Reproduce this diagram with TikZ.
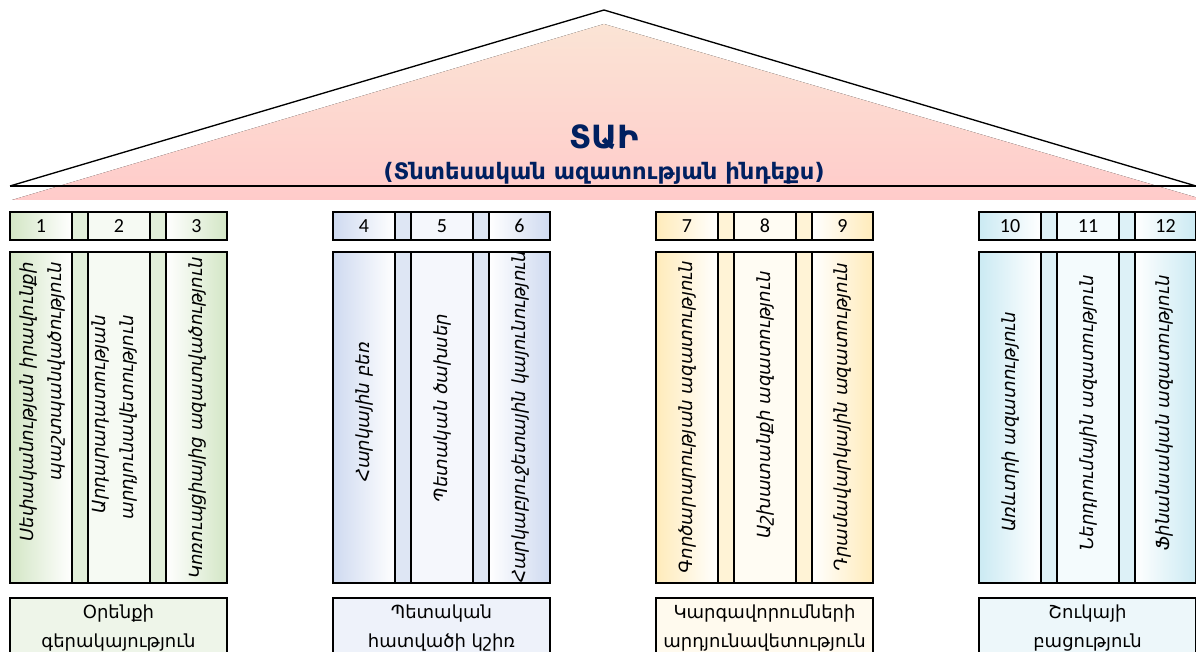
\documentclass[tikz,border=0pt]{standalone}
\usepackage{fontspec}
\setmainfont{DejaVu Sans}
\newfontfamily\numfont{Carlito}
\definecolor{navy}{HTML}{002060}
\definecolor{roofTop}{HTML}{FBE4D5}
\definecolor{roofBot}{HTML}{FFCBCA}
\definecolor{gA}{HTML}{D3E6C5}
\definecolor{gGap}{HTML}{E2EFDA}
\definecolor{gMid}{HTML}{F6FAF3}
\definecolor{gLab}{HTML}{EEF5E9}
\definecolor{bA}{HTML}{CFDAF0}
\definecolor{bGap}{HTML}{DEE6F4}
\definecolor{bMid}{HTML}{F5F7FC}
\definecolor{bLab}{HTML}{EEF2FA}
\definecolor{yA}{HTML}{FFEBBA}
\definecolor{yGap}{HTML}{FFF3D6}
\definecolor{yMid}{HTML}{FFFCF3}
\definecolor{yLab}{HTML}{FFFAEE}
\definecolor{cA}{HTML}{CBEAF3}
\definecolor{cGap}{HTML}{DDF1F7}
\definecolor{cMid}{HTML}{F4FBFD}
\definecolor{cLab}{HTML}{EDF7FA}
\tikzset{
  bord/.style={draw=black, line width=1.6pt},
  vtxt/.style={rotate=90, font=\fontsize{13.6}{21}\selectfont\itshape, inner sep=0pt},
  numtxt/.style={font=\numfont\fontsize{15}{17}\selectfont, inner sep=0pt},
  labtxt/.style={font=\fontsize{13.5}{21.5}\selectfont, align=center, inner sep=0pt},
}
\newcommand{\pillargroup}[5]{%
  \foreach \ya/\yb in {212/240, 252/583} {
    \path[left color=#2, right color=white] (#1,\ya) rectangle ({#1+62},\yb);
    \path[fill=#3] ({#1+62},\ya) rectangle ({#1+78},\yb);
    \path[fill=#4] ({#1+78},\ya) rectangle ({#1+140},\yb);
    \path[fill=#3] ({#1+140},\ya) rectangle ({#1+156},\yb);
    \path[left color=white, right color=#2] ({#1+156},\ya) rectangle ({#1+217},\yb);
    \draw[bord] (#1,\ya) rectangle ({#1+217},\yb);
    \foreach \d in {62,78,140,156} \draw[bord] ({#1+\d},\ya) -- ({#1+\d},\yb);
  }
  \path[fill=#5] (#1,598) rectangle ({#1+217},670);
  \draw[bord] (#1,598) rectangle ({#1+217},670);
}
\begin{document}
\begin{tikzpicture}[x=0.75pt, y=-0.75pt]
\useasboundingbox (0,0) rectangle (1196,652);
\clip (0,0) rectangle (1196,652);
% roof
\fill[top color=roofTop, bottom color=roofBot] (604,24) -- (12,200) -- (1205,200) -- cycle;
\draw[line width=1pt, line join=miter] (10,186) -- (604,10) -- (1196,186);
\draw[line width=1pt] (10,186) -- (1196,186);
\node[font=\bfseries\fontsize{24}{26}\selectfont, text=navy] (title) at (604,137) {ՏԱԻ};
\node[font=\bfseries\fontsize{17}{19}\selectfont, text=navy] (subtitle) at (604,173) {(Տնտեսական ազատության ինդեքս)};
% pillars
\pillargroup{10}{gA}{gGap}{gMid}{gLab}
\pillargroup{333}{bA}{bGap}{bMid}{bLab}
\pillargroup{656}{yA}{yGap}{yMid}{yLab}
\pillargroup{979}{cA}{cGap}{cMid}{cLab}
% numbers
\node[numtxt] (n1) at (41,226) {1};
\node[numtxt] (n2) at (119,226) {2};
\node[numtxt] (n3) at (196.5,226) {3};
\node[numtxt] (n4) at (364,226) {4};
\node[numtxt] (n5) at (442,226) {5};
\node[numtxt] (n6) at (519.5,226) {6};
\node[numtxt] (n7) at (687,226) {7};
\node[numtxt] (n8) at (765,226) {8};
\node[numtxt] (n9) at (842.5,226) {9};
\node[numtxt] (n10) at (1010,226) {10};
\node[numtxt] (n11) at (1088,226) {11};
\node[numtxt] (n12) at (1165.5,226) {12};
% vertical texts
\node[vtxt, anchor=east, align=right] (t1) at (42,262) {Սեփականության իրավունքի\\պաշտպանվածություն};
\node[vtxt, anchor=east, align=right] (t2) at (114,315) {Արդարադատության\\արդյունավետություն};
\node[vtxt] (t3) at (197,418) {Կոռուպցիայից ազատվածություն};
\node[vtxt] (t4) at (364,412) {Հարկային բեռ};
\node[vtxt] (t5) at (442,408) {Պետական ծախսեր};
\node[vtxt] (t6) at (520,417) {Հարկաբյուջետային կայունություն};
\node[vtxt] (t7) at (687,417) {Գործարարության ազատություն};
\node[vtxt] (t8) at (765,405) {Աշխատանքի ազատություն};
\node[vtxt] (t9) at (842.5,417) {Դրամավարկային ազատություն};
\node[vtxt] (t10) at (1010,422) {Առևտրի ազատություն};
\node[vtxt] (t11) at (1088,413) {Ներդրումային ազատություն};
\node[vtxt] (t12) at (1164,413) {Ֆինանսական ազատություն};
% labels
\node[labtxt] (l1) at (118.5,628) {Օրենքի\\գերակայություն};
\node[labtxt] (l2) at (441.5,628) {Պետական\\հատվածի կշիռ};
\node[labtxt] (l3) at (764.5,628) {Կարգավորումների\\արդյունավետություն};
\node[labtxt] (l4) at (1087.5,628) {Շուկայի\\բացություն};
\end{tikzpicture}
\end{document}
